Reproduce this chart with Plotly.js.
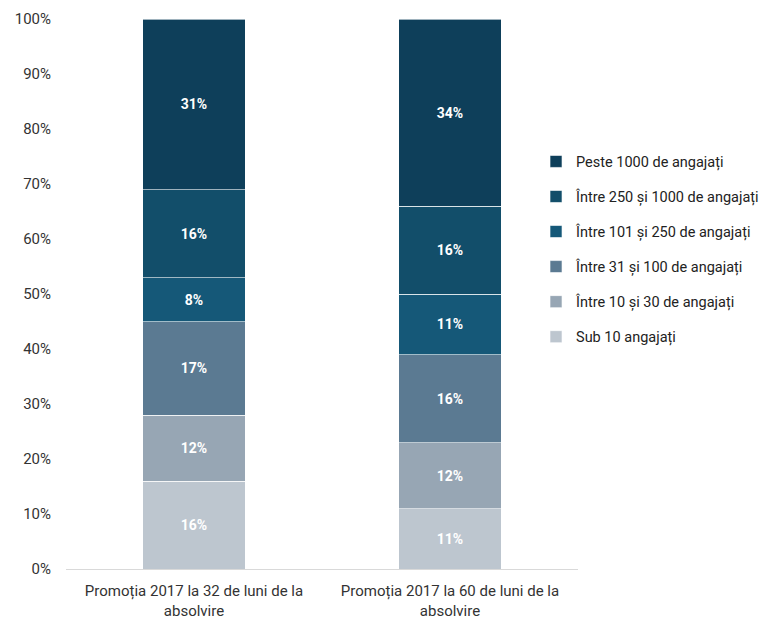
<!DOCTYPE html>
<html><head><meta charset="utf-8">
<script src="https://cdn.plot.ly/plotly-3.0.1.min.js"></script>
<style>html,body{margin:0;padding:0;background:#fff}#chart{width:768px;height:624px}</style>
</head><body><div id="chart"></div>
<script>
const categories = ["Promoția 2017 la 32 de luni de la<br>absolvire", "Promoția 2017 la 60 de luni de la<br>absolvire"];
const seriesNames = ["Sub 10 angajați", "Între 10 și 30 de angajați", "Între 31 și 100 de angajați", "Între 101 și 250 de angajați", "Între 250 și 1000 de angajați", "Peste 1000 de angajați"];
const sub10 = [16, 11];
const intre10_30 = [12, 12];
const intre31_100 = [17, 16];
const intre101_250 = [8, 11];
const intre250_1000 = [16, 16];
const peste1000 = [31, 34];
const yTickVals = [0,10,20,30,40,50,60,70,80,90,100];
const yTickText = ["0%","10%","20%","30%","40%","50%","60%","70%","80%","90%","100%"];

const values = [sub10, intre10_30, intre31_100, intre101_250, intre250_1000, peste1000];
const colors = ["#bdc6cf", "#97a6b4", "#5b7a92", "#155878", "#124e6a", "#0e3f5a"];
const font = "Roboto, 'Liberation Sans', sans-serif";

const traces = values.map((v, i) => ({
  type: 'bar', x: categories, y: v, name: seriesNames[i],
  legendgroup: 'g' + i, legendrank: 100 - i,
  marker: {color: colors[i], line: {color: 'rgba(255,255,255,0.6)', width: 1}},
  text: v.map(n => n + '%'), texttemplate: '%{text}', textposition: 'inside', insidetextanchor: 'middle',
  textfont: {color: '#ffffff', size: 14, family: font, weight: 'bold'},
  hoverinfo: 'skip'
}));

const layout = {
  width: 768, height: 624,
  margin: {l: 66, r: 190, t: 19, b: 55, autoexpand: false},
  barmode: 'stack', bargap: 0.6,
  paper_bgcolor: '#fff', plot_bgcolor: '#fff',
  font: {family: font, size: 15, color: '#333333'},
  xaxis: {showline: true, linecolor: '#d9d9d9', linewidth: 1, ticks: '', showgrid: false,
          tickfont: {size: 15, color: '#333333', family: font}, ticklabelstandoff: 8},
  yaxis: {range: [0, 100], tickmode: 'array', tickvals: yTickVals, ticktext: yTickText, showgrid: false, zeroline: false,
          showline: false, tickfont: {size: 15, color: '#333333', family: font}, ticklabelstandoff: 14},
  showlegend: true,
  legend: {x: 0.918, xanchor: 'left', y: 0.77, yanchor: 'top', traceorder: 'grouped',
           tracegroupgap: 13.2, font: {size: 14.5, color: '#222', family: font},
           itemwidth: 30, bgcolor: 'rgba(0,0,0,0)'}
};
Plotly.newPlot('chart', traces, layout, {displayModeBar: false, staticPlot: true});
</script></body></html>
